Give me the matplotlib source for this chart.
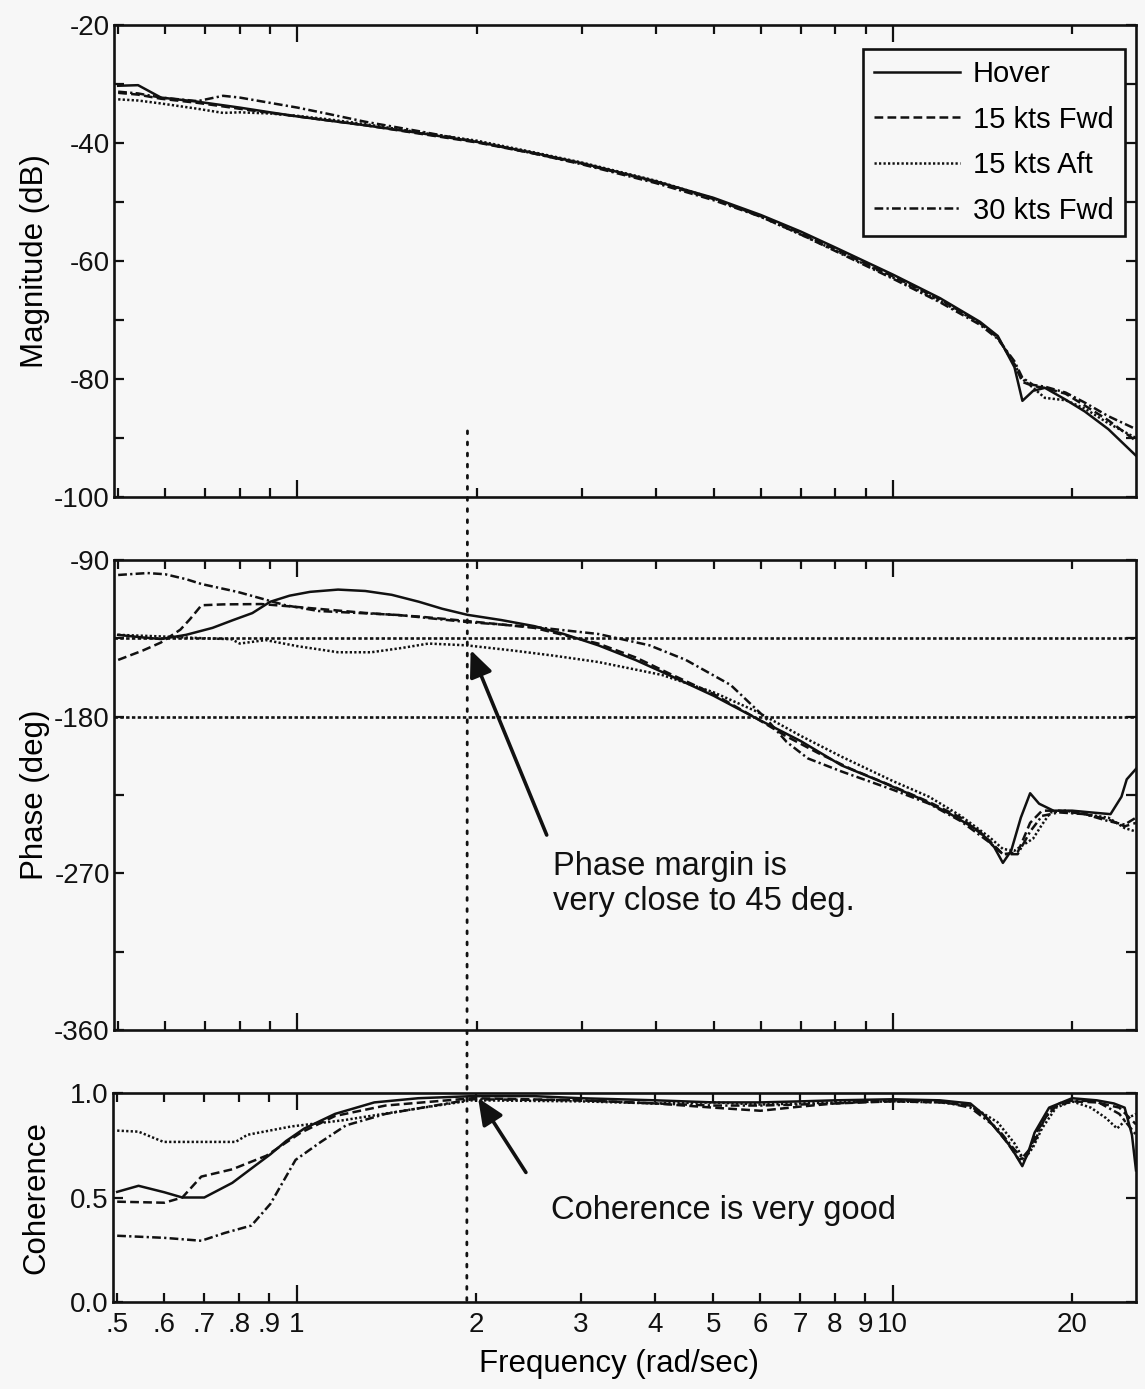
import matplotlib
matplotlib.use('Agg')
import matplotlib.pyplot as plt
from matplotlib.patches import ConnectionPatch

plt.rcParams['font.family'] = ['Liberation Sans', 'DejaVu Sans']
plt.rcParams['axes.unicode_minus'] = False

# ---------------- data ----------------
series_names = ['Hover', '15 kts Fwd', '15 kts Aft', '30 kts Fwd']

mag_freq = [0.5, 0.54, 0.59, 0.68, 0.75, 0.8, 0.9, 1.0, 1.13, 1.3, 1.6, 2.0, 2.5, 3.0, 4.0,
            5.0, 6.0, 7.0, 8.0, 10.0, 12.0, 14.0, 15.0, 16.0, 16.5, 17.2, 18.0, 19.5, 21.0,
            23.0, 25.6]
mag_hover = [-30.3, -30.2, -32.3, -33.0, -33.6, -34.0, -34.8, -35.5, -36.2, -37.0, -38.3,
             -39.8, -41.7, -43.4, -46.5, -49.3, -52.2, -55.0, -57.7, -62.3, -66.3, -70.3,
             -72.7, -78.0, -83.7, -82.0, -81.5, -83.5, -85.5, -88.5, -93.0]
mag_fwd15 = [-31.5, -31.8, -32.5, -33.2, -33.8, -34.2, -34.9, -35.5, -36.2, -37.0, -38.4,
             -39.9, -41.8, -43.5, -46.6, -49.5, -52.4, -55.3, -58.0, -62.6, -66.5, -70.5,
             -73.0, -77.5, -80.5, -81.2, -81.5, -82.5, -84.5, -87.0, -90.5]
mag_aft15 = [-32.6, -32.8, -33.3, -34.2, -34.9, -34.8, -35.0, -35.4, -36.0, -36.8, -38.2,
             -39.6, -41.6, -43.3, -46.4, -49.4, -52.5, -55.5, -58.2, -62.8, -66.8, -70.5,
             -73.0, -77.5, -80.0, -81.5, -83.2, -83.6, -85.0, -87.5, -90.0]
mag_fwd30 = [-31.3, -31.6, -32.3, -32.9, -32.0, -32.3, -33.2, -34.0, -35.1, -36.4, -38.0,
             -39.8, -41.8, -43.6, -46.8, -49.7, -52.5, -55.5, -58.3, -63.0, -67.0, -70.8,
             -73.2, -77.0, -79.8, -81.0, -81.3, -82.3, -84.0, -86.3, -88.5]

ph_hover_f = [0.5, 0.55, 0.59, 0.65, 0.72, 0.78, 0.84, 0.9, 0.97, 1.05, 1.17, 1.3, 1.44, 1.6,
              1.75, 1.93, 2.2, 2.5, 2.8, 3.2, 3.7, 4.2, 5.0, 5.9, 7.0, 8.2, 9.5, 11.1, 12.5,
              14.0, 14.8, 15.3, 15.8, 16.4, 17.0, 17.6, 18.6, 20.0, 21.5, 23.2, 24.2, 24.7, 25.6]
ph_hover = [-133, -134.5, -135.4, -133, -129, -124.5, -120.5, -114, -110.5, -108.3, -107,
            -107.8, -110, -114, -118, -121.5, -124.5, -128, -132.5, -139, -147.5, -156, -168,
            -181, -194, -208, -217, -227, -236, -246, -255, -264, -257, -238, -224, -230, -234,
            -234, -235, -236, -226, -216, -210]

ph_fwd15_f = [0.5, 0.55, 0.59, 0.636, 0.66, 0.69, 0.75, 0.87, 1.0, 1.3, 1.6, 1.92, 2.5, 3.2,
              3.7, 4.2, 5.0, 5.9, 6.6, 7.5, 8.5, 10.0, 11.5, 13.0, 14.5, 15.3, 16.2, 17.0,
              17.8, 19.0, 21.0, 23.0, 24.5, 25.6]
ph_fwd15 = [-147.4, -142, -137.4, -130, -124, -116, -115.5, -115.3, -117, -120.4, -122.5, -125,
            -129, -138, -146, -155, -167, -181, -191, -201, -210, -220, -229, -238, -251, -259,
            -258, -241, -234, -234, -236, -239, -243, -241]

ph_aft15_f = [0.5, 0.6, 0.7, 0.775, 0.8, 0.884, 1.0, 1.17, 1.33, 1.5, 1.66, 1.92, 2.3, 2.7,
              3.2, 4.09, 5.0, 5.9, 7.0, 8.2, 10.0, 11.5, 13.0, 14.5, 15.3, 16.0, 16.5, 17.2,
              17.8, 18.4, 19.5, 21.0, 23.0, 24.5, 25.6]
ph_aft15 = [-133, -134, -135, -135.5, -138, -136, -139.5, -143, -143, -140.5, -138, -139,
            -142, -145, -148.6, -156, -166, -177, -191, -203, -217, -226, -237, -249, -256,
            -257, -254, -250, -242, -235, -234, -236, -238, -244, -246]

ph_fwd30_f = [0.5, 0.56, 0.6, 0.65, 0.69, 0.795, 0.955, 1.085, 1.48, 1.92, 2.5, 3.2, 3.9,
              4.49, 5.34, 6.12, 6.63, 7.2, 8.2, 10.0, 11.5, 13.0, 14.5, 15.3, 16.2, 17.0,
              17.8, 19.0, 21.0, 23.0, 24.5, 25.6]
ph_fwd30 = [-98.6, -97.5, -98.2, -101, -103.8, -108.4, -116, -119.3, -121.6, -125.6, -128.5,
            -132.5, -139, -147.4, -161.8, -181, -194.5, -204, -211.5, -222, -230, -240, -252,
            -259, -259, -246, -237, -235, -236, -240, -242, -238]

coh_hover_f = [0.5, 0.543, 0.6, 0.643, 0.7, 0.78, 0.85, 0.904, 0.96, 1.03, 1.16, 1.35, 1.6,
               1.97, 2.5, 3.0, 4.0, 5.0, 6.0, 7.0, 8.0, 10.0, 12.0, 13.5, 14.3, 15.2, 15.8,
               16.5, 16.9, 17.3, 18.3, 20.0, 22.0, 23.5, 24.5, 25.2, 25.6]
coh_hover = [0.527, 0.556, 0.525, 0.50, 0.50, 0.57, 0.65, 0.707, 0.77, 0.83, 0.90, 0.955,
             0.975, 0.985, 0.985, 0.975, 0.965, 0.955, 0.955, 0.96, 0.965, 0.97, 0.965, 0.95,
             0.89, 0.80, 0.74, 0.65, 0.72, 0.81, 0.93, 0.975, 0.965, 0.95, 0.93, 0.80, 0.63]

coh_fwd15_f = [0.5, 0.6, 0.643, 0.692, 0.78, 0.89, 1.016, 1.16, 1.41, 1.97, 3.0, 4.0, 5.0,
               6.0, 7.0, 8.0, 10.0, 12.0, 13.5, 14.5, 15.5, 16.3, 16.8, 17.5, 18.5, 20.0,
               22.0, 24.0, 25.6]
coh_fwd15 = [0.48, 0.475, 0.50, 0.60, 0.635, 0.70, 0.81, 0.89, 0.94, 0.975, 0.965, 0.95,
             0.93, 0.915, 0.935, 0.95, 0.96, 0.955, 0.94, 0.87, 0.77, 0.68, 0.70, 0.82, 0.93,
             0.96, 0.955, 0.93, 0.85]

coh_aft15_f = [0.5, 0.543, 0.598, 0.7, 0.79, 0.827, 0.98, 1.2, 1.63, 1.97, 3.0, 4.0, 5.0,
               6.0, 7.0, 8.0, 10.0, 12.0, 13.5, 15.0, 16.0, 16.6, 17.2, 17.8, 18.8, 20.0,
               21.5, 22.8, 23.8, 24.8, 25.6]
coh_aft15 = [0.82, 0.815, 0.766, 0.766, 0.766, 0.80, 0.84, 0.87, 0.93, 0.965, 0.96, 0.95,
             0.955, 0.945, 0.95, 0.955, 0.96, 0.955, 0.94, 0.86, 0.76, 0.68, 0.74, 0.83, 0.93,
             0.96, 0.93, 0.88, 0.83, 0.88, 0.90]

coh_fwd30_f = [0.5, 0.6, 0.692, 0.757, 0.84, 0.904, 0.996, 1.097, 1.21, 1.41, 1.97, 3.0, 4.0,
               5.0, 6.0, 7.0, 8.0, 10.0, 12.0, 13.5, 15.0, 16.0, 16.5, 17.2, 18.0, 19.0,
               20.0, 22.0, 24.0, 25.6]
coh_fwd30 = [0.317, 0.307, 0.293, 0.33, 0.366, 0.47, 0.68, 0.765, 0.845, 0.90, 0.97, 0.965,
             0.95, 0.94, 0.94, 0.945, 0.95, 0.965, 0.96, 0.93, 0.83, 0.73, 0.69, 0.75, 0.88,
             0.95, 0.965, 0.96, 0.90, 0.80]

crossover_freq = 1.93
phase_margin_lines = [-135, -180]

x_major = [1, 10]
x_minor = [0.5, 0.6, 0.7, 0.8, 0.9, 2, 3, 4, 5, 6, 7, 8, 9, 20]
x_major_labels = ['1', '10']
x_minor_labels = ['.5', '.6', '.7', '.8', '.9', '2', '3', '4', '5', '6', '7', '8', '9', '20']

# ---------------- style ----------------
ink = '#111111'
bg = '#f7f7f7'
styles = {
    'Hover': '-',
    '15 kts Fwd': (0, (3.5, 1.7)),
    '15 kts Aft': (0, (0.9, 0.9)),
    '30 kts Fwd': (0, (3.5, 1.3, 0.9, 1.3)),
}
LW = 1.8

W, H = 1145, 1389
fig = plt.figure(figsize=(W / 100, H / 100), dpi=100, facecolor=bg)


def axrect(l, t, r, b):
    return [l / W, 1 - b / H, (r - l) / W, (b - t) / H]


ax1 = fig.add_axes(axrect(114, 25, 1136, 497))
ax2 = fig.add_axes(axrect(114, 560, 1136, 1030))
ax3 = fig.add_axes(axrect(113, 1093, 1136, 1302))

for ax in (ax1, ax2, ax3):
    ax.set_facecolor(bg)
    ax.set_xscale('log')
    ax.set_xlim(0.492, 25.6)
    ax.set_xticks(x_major)
    ax.set_xticks(x_minor, minor=True)
    for s in ax.spines.values():
        s.set_linewidth(1.9)
        s.set_color(ink)
    ax.tick_params(axis='x', which='major', direction='in', length=12, width=1.6,
                   top=True, bottom=True, colors=ink, labelsize=20, pad=7)
    ax.tick_params(axis='x', which='minor', direction='in', length=6.5, width=1.6,
                   top=True, bottom=True, colors=ink, labelsize=20, pad=7)
    ax.tick_params(axis='y', which='both', direction='in', length=7, width=1.6,
                   left=True, right=True, colors=ink, labelsize=20, pad=3)

for ax in (ax1, ax2):
    ax.set_xticklabels([])
    ax.set_xticklabels([], minor=True)

ax3.set_xticklabels(x_major_labels)
ax3.set_xticklabels(x_minor_labels, minor=True)

# magnitude
for name, vals in zip(series_names, [mag_hover, mag_fwd15, mag_aft15, mag_fwd30]):
    ax1.plot(mag_freq, vals, color=ink, lw=LW, linestyle=styles[name], label=name)
ax1.set_ylim(-100, -20)
ax1.set_yticks([-100, -80, -60, -40, -20])
ax1.set_yticks([-90, -70, -50, -30], minor=True)
ax1.set_ylabel('Magnitude (dB)', fontsize=22.5, va='center')
ax1.yaxis.set_label_coords(-0.077, 0.5)
leg = ax1.legend(loc='upper right', bbox_to_anchor=(0.989, 0.949), borderaxespad=0,
                 fontsize=21, frameon=True, fancybox=False, framealpha=1,
                 edgecolor=ink, facecolor=bg, handlelength=2.95, handletextpad=0.45,
                 labelspacing=0.6, borderpad=0.38)
leg.get_frame().set_linewidth(1.9)

# phase
for name, (f, vals) in zip(series_names, [(ph_hover_f, ph_hover), (ph_fwd15_f, ph_fwd15),
                                          (ph_aft15_f, ph_aft15), (ph_fwd30_f, ph_fwd30)]):
    ax2.plot(f, vals, color=ink, lw=LW, linestyle=styles[name])
for yv in phase_margin_lines:
    ax2.axhline(yv, color=ink, lw=1.9, linestyle=(0, (1.3, 0.9)))
ax2.set_ylim(-360, -90)
ax2.set_yticks([-360, -270, -180, -90])
ax2.set_yticks([-315, -225, -135], minor=True)
ax2.set_ylabel('Phase (deg)', fontsize=22.5, va='center')
ax2.yaxis.set_label_coords(-0.077, 0.5)

# coherence
for name, (f, vals) in zip(series_names, [(coh_hover_f, coh_hover), (coh_fwd15_f, coh_fwd15),
                                          (coh_aft15_f, coh_aft15), (coh_fwd30_f, coh_fwd30)]):
    ax3.plot(f, vals, color=ink, lw=LW, linestyle=styles[name])
ax3.set_ylim(0, 1)
ax3.set_yticks([0, 0.5, 1.0])
ax3.set_yticklabels(['0.0', '0.5', '1.0'])
ax3.set_ylabel('Coherence', fontsize=22.5, va='center')
ax3.yaxis.set_label_coords(-0.075, 0.5)
ax3.set_xlabel('Frequency (rad/sec)', fontsize=22.5, va='center')
ax3.xaxis.set_label_coords(0.495, -0.295)

# crossover dotted line through all panels
con = ConnectionPatch(xyA=(crossover_freq, -88.8), coordsA=ax1.transData,
                      xyB=(crossover_freq, 0), coordsB=ax3.transData,
                      color=ink, lw=2, linestyle=(0, (1, 3)))
fig.add_artist(con)

# annotations
arrow_style = dict(arrowstyle='-|>,head_length=0.8,head_width=0.35', lw=2.6, color=ink,
                   mutation_scale=20, shrinkA=0, shrinkB=0)
ax2.annotate('', xy=(1.954, -141.7), xytext=(2.622, -248), arrowprops=arrow_style)
ax2.text(2.69, -276, 'Phase margin is\nvery close to 45 deg.', fontsize=23.5, color=ink,
         ha='left', va='center', linespacing=1.15)
ax3.annotate('', xy=(2.016, 0.976), xytext=(2.425, 0.62), arrowprops=arrow_style)
ax3.text(2.67, 0.44, 'Coherence is very good', fontsize=23.5, color=ink,
         ha='left', va='center')

fig.savefig('out.png', dpi=100, facecolor=bg)
